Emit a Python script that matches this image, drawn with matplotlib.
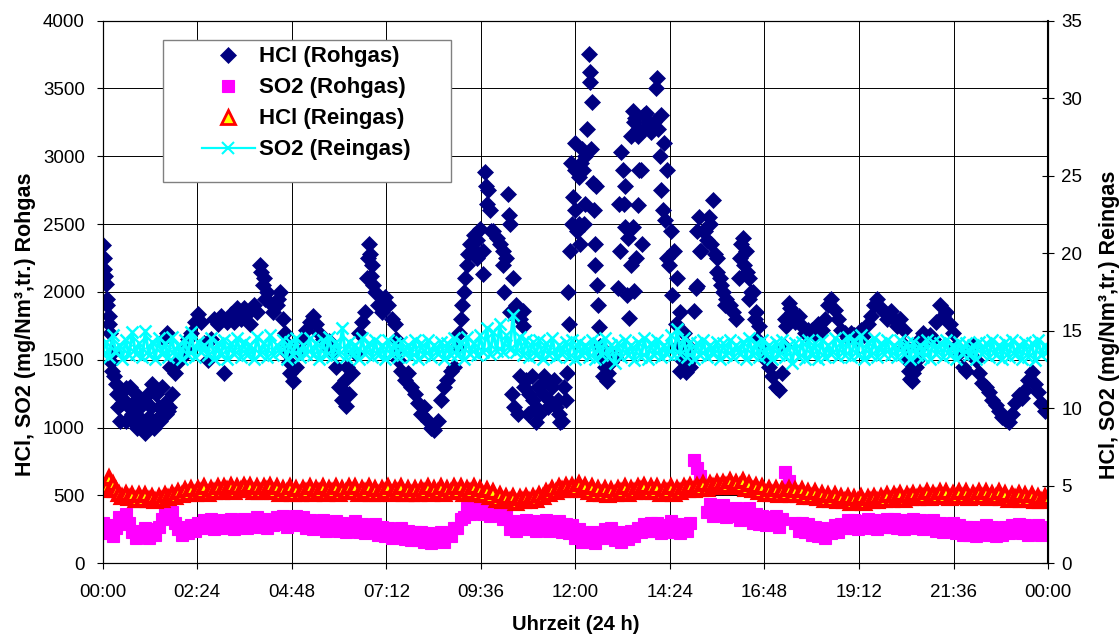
import numpy as np
import matplotlib
matplotlib.use("Agg")
import matplotlib.pyplot as plt
from matplotlib.patches import Rectangle
from matplotlib.lines import Line2D

plt.rcParams['font.family'] = ['Liberation Sans', 'DejaVu Sans']

# HCl Rohgas (mg/Nm3), 5-min readings, one row per hour
hcl_roh = [
    2345, 2060, 1820, 1560, 1320, 1250, 1180, 1290, 1150, 1100, 1200, 1080,  # 00
    1000, 960, 1080, 1320, 1050, 1150, 1100, 1180, 1120, 1250, 1400, 1480,   # 01
    1520, 1580, 1650, 1700, 1780, 1840, 1780, 1620, 1500, 1650, 1800, 1760,  # 02
    1820, 1400, 1780, 1840, 1780, 1880, 1800, 1880, 1840, 1760, 1900, 1850,  # 03
    2200, 2100, 2000, 1920, 1850, 1900, 2000, 1800, 1550, 1400, 1340, 1450,  # 04
    1560, 1650, 1720, 1780, 1820, 1760, 1700, 1650, 1600, 1640, 1560, 1450,  # 05
    1300, 1200, 1160, 1250, 1400, 1550, 1700, 1780, 1850, 2350, 2200, 2000,  # 06
    1900, 1850, 1960, 1900, 1800, 1760, 1500, 1420, 1350, 1400, 1300, 1250,  # 07
    1180, 1100, 1150, 1050, 1000, 980, 1050, 1200, 1300, 1350, 1420, 1450,   # 08
    1600, 1800, 2000, 2200, 2350, 2420, 2380, 2460, 2300, 2650, 2600, 2450,  # 09
    2400, 2350, 2300, 2250, 2500, 2100, 1900, 1800, 1750, 1350, 1250, 1200,  # 10
    1150, 1100, 1250, 1350, 1200, 1300, 1150, 1100, 1050, 1200, 1760, 2500,  # 11
    2900, 2500, 3050, 2650, 3750, 3400, 2200, 1900, 1520, 1450, 1400, 1480,  # 12
    1520, 2030, 3030, 2780, 2400, 3150, 3250, 3200, 2900, 3300, 3250, 3180,  # 13
    3250, 3575, 3300, 3100, 2900, 2450, 2300, 2100, 1850, 1700, 1550, 1450,  # 14
    1860, 2040, 2300, 2450, 2380, 2500, 2680, 2250, 2100, 2000, 1950, 1900,  # 15
    1850, 1800, 2250, 2400, 2300, 2100, 2000, 1850, 1750, 1600, 1500, 1450,  # 16
    1380, 1300, 1280, 1400, 1800, 1920, 1850, 1780, 1820, 1750, 1700, 1720,  # 17
    1720, 1680, 1760, 1720, 1800, 1900, 1950, 1870, 1800, 1720, 1700, 1660,  # 18
    1700, 1680, 1650, 1720, 1680, 1760, 1820, 1900, 1950, 1880, 1850, 1800,  # 19
    1860, 1800, 1750, 1800, 1720, 1500, 1360, 1400, 1500, 1650, 1700, 1660,  # 20
    1680, 1650, 1780, 1900, 1820, 1850, 1760, 1700, 1600, 1550, 1450, 1420,  # 21
    1550, 1600, 1500, 1400, 1330, 1300, 1260, 1200, 1170, 1120, 1080, 1060,  # 22
    1040, 1100, 1180, 1240, 1220, 1280, 1350, 1410, 1320, 1260, 1180, 1120,  # 23
    1150,
]

# extra HCl Rohgas readings between the 5-min values (hour, value)
hcl_roh_extra_t = [
    0.02, 0.04, 0.06, 0.1, 0.12, 0.15, 0.19, 0.21, 0.23, 0.28,
    0.35, 0.4, 0.45, 0.55, 0.6, 0.7, 0.75, 0.85, 0.88, 0.95,
    1.05, 1.1, 1.15, 1.22, 1.3, 1.35, 1.45, 1.5,
    1.55, 1.6, 1.62, 1.68, 1.7,
    4.03, 4.06, 4.12, 4.45, 4.62, 4.65, 4.72,
    6.1, 6.15, 6.2, 6.71, 6.73, 6.78, 6.8, 6.87, 7.45, 7.48,
    9.04, 9.12, 9.2, 9.28, 9.45, 9.5, 9.65, 9.7, 9.72, 9.78, 9.85,
    10.15, 10.2, 10.29, 10.31, 10.35, 10.4, 10.45, 10.55, 10.6, 10.67, 10.7, 10.8,
    10.9, 11.0, 11.05, 11.2, 11.3, 11.45, 11.55, 11.62, 11.7, 11.78, 11.81, 11.86,
    11.88, 11.95,
    12.0, 12.0, 12.04, 12.08, 12.12, 12.15, 12.2, 12.22, 12.25, 12.3, 12.36, 12.38,
    12.4, 12.44, 12.47, 12.5, 12.52, 12.55, 12.6, 12.62, 12.7, 12.8, 12.9,
    13.1, 13.13, 13.2, 13.23, 13.27, 13.3, 13.35, 13.4, 13.45, 13.46, 13.5, 13.52,
    13.55, 13.58, 13.6, 13.62, 13.7, 13.75, 13.8,
    14.04, 14.1, 14.14, 14.18, 14.22, 14.28, 14.32, 14.38, 14.45, 14.55, 14.6,
    14.65, 14.7, 14.8, 14.85, 14.9,
    15.05, 15.1, 15.15, 15.2, 15.3, 15.4, 15.45, 15.55, 15.6, 15.7, 15.8,
    16.15, 16.2, 16.28, 16.35, 16.4, 16.45, 16.55, 16.62,
    17.3, 17.35, 17.45, 17.55,
    20.38, 20.48, 20.55, 20.65, 20.7,
]
hcl_roh_extra_v = [
    2250, 2170, 2120, 1950, 1900, 1760, 1700, 1480, 1420, 1380,
    1250, 1150, 1050, 1200, 1050, 1300, 1050, 1250, 1000, 1150,
    1200, 1050, 1250, 1150, 1000, 1250, 1050, 1300,
    1650, 1100, 1700, 1150, 1450,
    2150, 2050, 1950, 1950, 1700, 1620, 1480,
    1280, 1350, 1450, 2100, 2250, 2280, 2120, 2050, 1650, 1580,
    1700, 1900, 2100, 2280, 2300, 2250, 2130, 2880, 2780, 2750, 2450,
    2200, 2000, 2720, 2570, 1850, 1250, 1150, 1100, 1380, 1860, 1300, 1100,
    1380, 1040, 1300, 1380, 1150, 1350, 1200, 1040, 1300, 1400, 2000, 2300,
    2950, 2700,
    3100, 2600, 2450, 2850, 2350, 2950, 2900, 2500, 3000, 3200, 3620, 3550,
    3050, 2800, 2600, 2350, 2780, 2050, 1740, 1600, 1380, 1340, 1500,
    2650, 2300, 2900, 2650, 2480, 1980, 1810, 2200, 3330, 2480, 2010, 3280,
    2250, 3150, 2640, 2900, 2350, 3200, 3320,
    3500, 3200, 3000, 2750, 2600, 2530, 2250, 2200, 1980, 1760, 1600,
    1420, 1500, 1410, 1600, 1500,
    2030, 2450, 2550, 2300, 2450, 2550, 2350, 2280, 2150, 2050, 1900,
    2100, 2350, 2200, 2150, 1950, 2000, 1800, 1650,
    1600, 1750, 1880, 1800,
    1600, 1420, 1340, 1450, 1580,
]

# SO2 Rohgas (mg/Nm3), 5-min readings
so2_roh = [
    300, 220, 280, 200, 260, 340, 290, 360, 300, 230, 190, 240,  # 00
    200, 260, 190, 250, 210, 270, 330, 400, 340, 380, 300, 250,  # 01
    210, 270, 220, 280, 240, 300, 260, 320, 270, 330, 250, 310,  # 02
    260, 320, 270, 330, 250, 310, 270, 330, 260, 320, 280, 340,  # 03
    270, 330, 260, 320, 280, 340, 290, 350, 270, 330, 290, 350,  # 04
    280, 340, 260, 320, 250, 310, 260, 320, 240, 300, 250, 310,  # 05
    240, 300, 230, 290, 250, 310, 230, 290, 220, 280, 230, 290,  # 06
    210, 270, 200, 260, 190, 250, 200, 260, 180, 240, 170, 230,  # 07
    170, 230, 160, 220, 150, 210, 170, 230, 160, 220, 200, 260,  # 08
    260, 330, 340, 410, 360, 430, 370, 430, 360, 420, 350, 420,  # 09
    360, 420, 330, 390, 250, 310, 240, 300, 260, 320, 250, 310,  # 10
    240, 300, 260, 320, 240, 300, 250, 310, 230, 290, 220, 280,  # 11
    190, 250, 160, 220, 170, 230, 150, 210, 190, 250, 200, 260,  # 12
    170, 230, 160, 220, 180, 240, 200, 260, 230, 290, 240, 300,  # 13
    240, 300, 220, 280, 250, 310, 230, 290, 220, 280, 240, 300,  # 14
    760, 700, 640, 560, 380, 440, 350, 410, 370, 430, 340, 400,  # 15
    350, 410, 320, 380, 350, 410, 300, 360, 290, 350, 280, 340,  # 16
    290, 350, 270, 330, 670, 610, 530, 300, 240, 300, 230, 290,  # 17
    210, 270, 200, 260, 190, 250, 220, 280, 230, 290, 260, 320,  # 18
    260, 320, 250, 310, 270, 330, 260, 320, 250, 310, 270, 330,  # 19
    270, 330, 260, 320, 250, 310, 270, 330, 260, 320, 250, 310,  # 20
    260, 320, 240, 300, 230, 290, 240, 300, 220, 280, 210, 270,  # 21
    210, 270, 200, 260, 220, 280, 210, 270, 200, 260, 210, 270,  # 22
    220, 280, 230, 290, 220, 280, 210, 270, 220, 280, 210, 270,  # 23
    240,
]

# HCl Reingas (mg/Nm3, right axis), 5-min readings
hcl_rein = [
    4.7, 4.9, 5.5, 5.1, 4.7, 4.5, 4.3, 4.5, 4.2, 4.4, 4.1, 4.4,  # 00
    4.1, 4.4, 4.1, 4.3, 4.0, 4.3, 4.1, 4.4, 4.2, 4.5, 4.3, 4.6,  # 01
    4.4, 4.7, 4.5, 4.8, 4.5, 4.8, 4.6, 4.9, 4.5, 4.8, 4.6, 4.9,  # 02
    4.6, 4.9, 4.7, 5.0, 4.6, 4.9, 4.7, 5.0, 4.7, 5.0, 4.6, 4.9,  # 03
    4.6, 4.9, 4.7, 5.0, 4.6, 4.9, 4.5, 4.8, 4.6, 4.9, 4.5, 4.8,  # 04
    4.5, 4.8, 4.6, 4.9, 4.5, 4.8, 4.6, 4.9, 4.5, 4.8, 4.6, 4.9,  # 05
    4.5, 4.8, 4.6, 4.9, 4.6, 4.9, 4.5, 4.8, 4.6, 4.9, 4.5, 4.8,  # 06
    4.5, 4.8, 4.6, 4.9, 4.5, 4.8, 4.6, 4.9, 4.5, 4.8, 4.5, 4.8,  # 07
    4.5, 4.8, 4.6, 4.9, 4.5, 4.8, 4.6, 4.9, 4.5, 4.8, 4.6, 4.9,  # 08
    4.6, 4.9, 4.5, 4.8, 4.6, 4.9, 4.5, 4.8, 4.4, 4.7, 4.3, 4.6,  # 09
    4.1, 4.4, 4.0, 4.3, 4.0, 4.3, 3.9, 4.2, 4.0, 4.3, 4.0, 4.3,  # 10
    4.1, 4.4, 4.3, 4.6, 4.5, 4.8, 4.6, 4.9, 4.7, 5.0, 4.7, 5.0,  # 11
    4.8, 5.1, 4.7, 5.0, 4.6, 4.9, 4.5, 4.8, 4.5, 4.8, 4.4, 4.7,  # 12
    4.5, 4.8, 4.6, 4.9, 4.5, 4.8, 4.6, 4.9, 4.7, 5.0, 4.6, 4.9,  # 13
    4.6, 4.9, 4.5, 4.8, 4.6, 4.9, 4.5, 4.8, 4.6, 4.9, 4.7, 5.0,  # 14
    4.7, 5.0, 4.8, 5.1, 4.8, 5.1, 4.9, 5.2, 4.9, 5.2, 5.0, 5.3,  # 15
    4.9, 5.2, 5.0, 5.3, 4.8, 5.1, 4.7, 5.0, 4.6, 4.9, 4.5, 4.8,  # 16
    4.5, 4.8, 4.4, 4.7, 4.5, 4.8, 4.4, 4.7, 4.4, 4.7, 4.3, 4.6,  # 17
    4.3, 4.6, 4.2, 4.5, 4.1, 4.4, 4.1, 4.4, 4.0, 4.3, 4.0, 4.3,  # 18
    3.9, 4.2, 4.0, 4.3, 3.9, 4.2, 4.0, 4.3, 4.0, 4.3, 4.1, 4.4,  # 19
    4.1, 4.4, 4.2, 4.5, 4.1, 4.4, 4.2, 4.5, 4.2, 4.5, 4.3, 4.6,  # 20
    4.2, 4.5, 4.3, 4.6, 4.3, 4.6, 4.2, 4.5, 4.3, 4.6, 4.3, 4.6,  # 21
    4.2, 4.5, 4.3, 4.6, 4.3, 4.6, 4.2, 4.5, 4.3, 4.6, 4.2, 4.5,  # 22
    4.1, 4.4, 4.2, 4.5, 4.1, 4.4, 4.1, 4.4, 4.0, 4.3, 4.0, 4.3,  # 23
    4.2,
]

# SO2 Reingas (mg/Nm3, right axis), 5-min readings
so2_rein = [
    13.5, 14.3, 13.3, 14.7, 13.6, 14.1, 13.2, 14.4, 13.4, 14.9, 13.5, 14.2,  # 00
    13.3, 15.0, 13.4, 14.3, 13.2, 14.5, 13.5, 14.2, 13.3, 14.6, 13.4, 14.1,  # 01
    13.2, 14.4, 13.4, 14.9, 13.3, 14.3, 13.6, 14.1, 13.4, 14.5, 13.2, 14.2,  # 02
    13.4, 14.4, 13.2, 14.2, 13.5, 14.5, 13.3, 14.3, 13.4, 14.1, 13.2, 14.6,  # 03
    13.5, 14.2, 13.3, 14.7, 13.4, 14.1, 13.6, 14.4, 13.2, 14.3, 13.4, 14.5,  # 04
    13.3, 14.1, 13.5, 14.5, 13.4, 14.2, 13.2, 14.4, 13.4, 14.6, 13.3, 14.3,  # 05
    13.5, 15.2, 13.3, 14.3, 13.4, 14.1, 13.2, 14.5, 13.5, 14.2, 13.3, 14.4,  # 06
    13.4, 14.1, 13.2, 14.4, 13.4, 14.2, 13.3, 14.3, 13.5, 14.1, 13.3, 14.4,  # 07
    13.2, 14.2, 13.4, 14.4, 13.3, 14.1, 13.5, 14.3, 13.2, 14.2, 13.4, 14.5,  # 08
    13.4, 14.3, 13.2, 14.6, 13.5, 14.2, 13.4, 14.7, 13.6, 15.2, 13.5, 14.9,  # 09
    13.7, 15.4, 13.6, 14.7, 13.8, 16.0, 13.6, 14.6, 13.4, 14.4, 13.3, 14.3,  # 10
    13.4, 14.4, 13.2, 14.2, 13.4, 14.5, 13.3, 14.1, 13.5, 14.3, 13.3, 14.4,  # 11
    13.2, 14.3, 13.4, 14.1, 13.3, 14.4, 13.2, 14.2, 13.4, 14.5, 13.3, 14.1,  # 12
    12.9, 14.2, 13.3, 14.4, 13.4, 14.1, 13.1, 14.3, 13.3, 14.5, 13.2, 14.2,  # 13
    13.4, 14.4, 13.3, 14.1, 13.5, 14.7, 13.4, 15.1, 13.5, 14.5, 13.3, 14.3,  # 14
    13.2, 14.2, 13.4, 14.4, 13.3, 14.1, 13.5, 14.3, 13.2, 14.2, 13.4, 14.4,  # 15
    13.3, 14.1, 13.5, 14.3, 13.2, 14.5, 13.4, 14.2, 13.3, 14.4, 13.4, 14.1,  # 16
    13.2, 14.3, 13.4, 14.4, 13.3, 14.1, 12.9, 14.2, 13.3, 14.3, 13.2, 14.4,  # 17
    13.4, 14.2, 13.2, 14.4, 13.3, 14.1, 13.5, 14.5, 13.3, 14.3, 13.4, 14.6,  # 18
    13.3, 14.4, 13.4, 14.7, 13.2, 14.3, 13.4, 14.5, 13.3, 14.2, 13.5, 14.4,  # 19
    13.4, 14.1, 13.3, 14.4, 13.5, 14.2, 13.2, 14.3, 13.4, 14.1, 13.3, 14.4,  # 20
    13.2, 14.3, 13.5, 14.2, 13.3, 14.4, 13.4, 14.1, 13.2, 14.3, 13.5, 14.2,  # 21
    13.4, 14.1, 13.2, 14.3, 13.5, 14.2, 13.3, 14.4, 13.4, 14.1, 13.2, 14.3,  # 22
    13.3, 14.4, 13.4, 14.1, 13.2, 14.3, 13.3, 14.2, 13.1, 14.4, 13.4, 14.1,  # 23
    13.7,
]

x_ticks_h = [0, 2.4, 4.8, 7.2, 9.6, 12, 14.4, 16.8, 19.2, 21.6, 24]
x_ticklabels = ["00:00", "02:24", "04:48", "07:12", "09:36", "12:00",
                "14:24", "16:48", "19:12", "21:36", "00:00"]
series_labels = ["HCl (Rohgas)", "SO2 (Rohgas)", "HCl (Reingas)", "SO2 (Reingas)"]

t_hcl = np.arange(len(hcl_roh)) / 12.0
t_so2 = np.arange(len(so2_roh)) / 12.0
t_hr = np.arange(len(hcl_rein)) / 12.0
t_sr = np.arange(len(so2_rein)) / 12.0

fig = plt.figure(figsize=(11.19, 6.37), dpi=100)
ax = fig.add_axes([0.0918, 0.1157, 0.8448, 0.8521])
ax2 = ax.twinx()

# linke Achse: Rohgas
h1, = ax.plot(t_hcl, hcl_roh, ls="none", marker="D", ms=8.3, mfc="#000080",
              mec="#000080", mew=0.5, label=series_labels[0])
ax.plot(hcl_roh_extra_t, hcl_roh_extra_v, ls="none", marker="D", ms=8.3,
        mfc="#000080", mec="#000080", mew=0.5)
h2, = ax.plot(t_so2, so2_roh, ls="none", marker="s", ms=9.3, mfc="#FF00FF",
              mec="#FF00FF", mew=0.8, label=series_labels[1])

# rechte Achse: Reingas
ax2.plot(t_hr, hcl_rein, ls="none", marker="^", ms=9, mfc="#FFFF00",
         mec="#FF0000", mew=3)
h4, = ax2.plot(t_sr, so2_rein, ls="-", lw=2.2, color="#00FFFF", marker="x",
               ms=9, mew=1.8, label=series_labels[3])
# Legendensymbol fuer HCl Reingas (einzelnes Dreieck)
h3 = Line2D([], [], ls="none", marker="^", ms=10, mfc="#FFFF00",
            mec="#FF0000", mew=2, label=series_labels[2])
h4_leg = Line2D([], [], ls="-", lw=1.6, color="#00FFFF", marker="x",
                ms=9, mew=1.5, label=series_labels[3])

ax.set_xlim(0, 24)
ax.set_ylim(0, 4000)
ax2.set_ylim(0, 35)
ax.set_xticks(x_ticks_h)
ax.set_xticklabels(x_ticklabels)
ax.set_yticks(range(0, 4001, 500))
ax2.set_yticks(range(0, 36, 5))

ax.grid(True, color="black", lw=0.7)
ax.set_axisbelow(True)

ax.tick_params(axis="y", direction="out", length=4.3, width=0.8,
               labelsize=13.5, pad=8.5)
ax.tick_params(axis="x", direction="out", length=4, width=0.8,
               labelsize=13.5, pad=11)
ax2.tick_params(axis="y", direction="inout", length=9, width=0.8,
                labelsize=13.5, pad=5)
for s in ["left", "bottom", "top"]:
    ax.spines[s].set_linewidth(0.8)
ax2.spines["right"].set_linewidth(1.5)

ax.set_xlabel("Uhrzeit (24 h)", fontsize=14.5, fontweight="bold")
ax.set_ylabel("HCl, SO2 (mg/Nm³,tr.) Rohgas", fontsize=15.5, fontweight="bold")
ax2.set_ylabel("HCl, SO2 (mg/Nm³,tr.) Reingas", fontsize=15.5, fontweight="bold")
ax.yaxis.set_label_coords(-0.0706, 0.44)
ax2.yaxis.set_label_coords(1.0543, 0.44)
ax.xaxis.set_label_coords(0.5, -0.095)

# Legendenrahmen
ax2.add_patch(Rectangle((0.0641, 0.7027), 0.304, 0.2617, transform=ax2.transAxes,
                        facecolor="white", edgecolor="#808080", lw=1,
                        zorder=4, clip_on=False))
ax2.legend(handles=[h1, h2, h3, h4_leg], loc="upper left",
           bbox_to_anchor=(0.1047, 0.9525), frameon=False, borderpad=0,
           borderaxespad=0, handlelength=2.4, handletextpad=0.2,
           labelspacing=0.45, prop={"size": 16, "weight": "bold"})

fig.savefig("out.png", dpi=100)
